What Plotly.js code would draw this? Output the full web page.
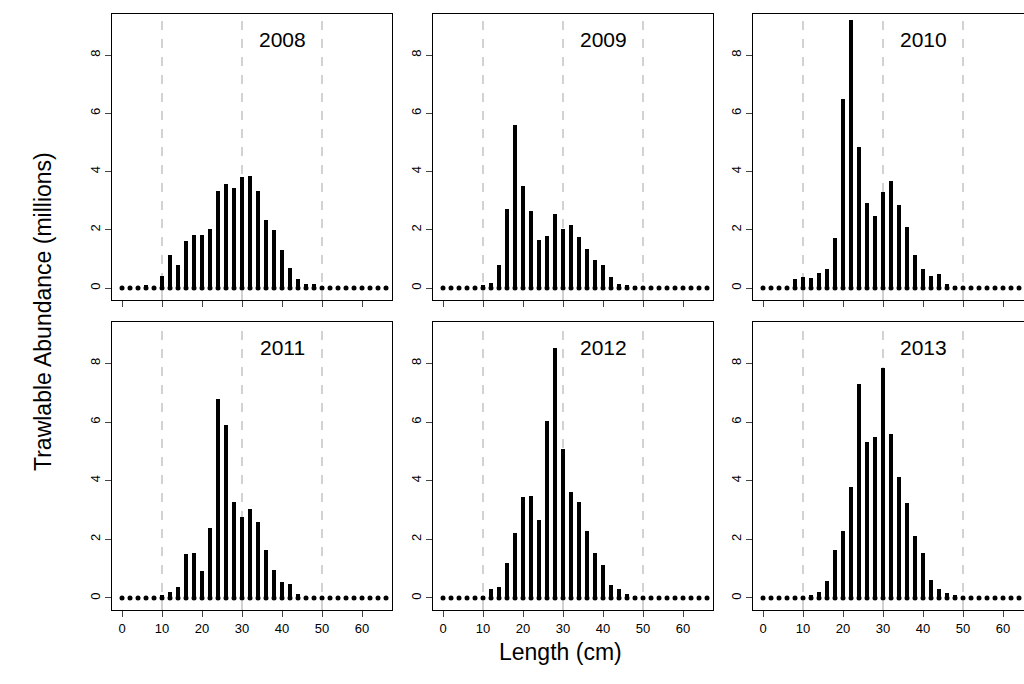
<!DOCTYPE html>
<html><head><meta charset="utf-8">
<script src="https://cdn.plot.ly/plotly-3.0.1.min.js"></script>
<style>html,body{margin:0;padding:0;overflow:hidden;background:#fff}</style>
</head><body><div id="chart"></div>
<script>
// length classes 0..66 cm by 2
var lengths = []; for (var L = 0; L <= 66; L += 2) lengths.push(L);
var years = ['2008','2009','2010','2011','2012','2013'];

// abundance (millions) per length class
var a2008 = [0.02,0.02,0.04,0.1,0.05,0.43,1.14,0.78,1.63,1.82,1.82,2.03,3.34,3.57,3.42,3.81,3.86,3.34,2.34,2.0,1.29,0.69,0.3,0.15,0.15,0.02,0.02,0.02,0.02,0.02,0.02,0.02,0.02,0.02];
var a2009 = [0.02,0.02,0.02,0.02,0.05,0.09,0.17,0.8,2.7,5.6,3.49,2.66,1.66,1.8,2.53,2.03,2.15,1.77,1.34,0.95,0.8,0.38,0.13,0.1,0.08,0.02,0.02,0.02,0.02,0.02,0.02,0.02,0.02,0.02];
var a2010 = [0.02,0.02,0.02,0.05,0.32,0.38,0.36,0.53,0.65,1.71,6.5,9.2,4.83,2.93,2.49,3.29,3.66,2.86,2.09,1.12,0.65,0.43,0.49,0.15,0.08,0.02,0.02,0.02,0.02,0.02,0.02,0.02,0.02,0.02];
var a2011 = [0.02,0.02,0.02,0.02,0.02,0.09,0.2,0.38,1.5,1.52,0.93,2.38,6.78,5.91,3.26,2.75,3.03,2.59,1.62,0.97,0.56,0.46,0.15,0.05,0.02,0.02,0.02,0.02,0.02,0.02,0.02,0.02,0.02,0.02];
var a2012 = [0.02,0.02,0.02,0.02,0.02,0.08,0.32,0.38,1.18,2.2,3.43,3.49,2.66,6.02,8.51,5.09,3.6,3.27,2.29,1.55,1.14,0.43,0.32,0.15,0.06,0.02,0.02,0.02,0.02,0.02,0.02,0.02,0.02,0.02];
var a2013 = [0.02,0.02,0.02,0.02,0.02,0.05,0.11,0.2,0.57,1.62,2.3,3.8,7.29,5.33,5.49,7.83,5.58,4.11,3.25,2.11,1.52,0.61,0.29,0.17,0.09,0.02,0.02,0.02,0.02,0.02,0.02,0.02,0.02,0.02];
var series = [a2008,a2009,a2010,a2011,a2012,a2013];

var W = 1040, H = 684;
var xcols = [[112,392],[433,713],[753,1033]];
var yrows = [[14,300],[322,610]];
var font = 'Liberation Sans, Arial, sans-serif';

var data = [], shapes = [], annotations = [];
var layout = {width: W, height: H, margin: {l:0,r:0,t:0,b:0}, showlegend: false,
  paper_bgcolor: '#fff', plot_bgcolor: '#fff', bargap: 0, font: {family: font, color: '#000'}};

series.forEach(function (vals, i) {
  var col = i % 3, row = Math.floor(i / 3), n = i + 1;
  var xa = 'x' + (n == 1 ? '' : n), ya = 'y' + (n == 1 ? '' : n);
  data.push({type: 'bar', x: lengths, y: vals, width: 1.2, marker: {color: '#000', line: {width: 0}},
    xaxis: xa, yaxis: ya, hoverinfo: 'x+y'});
  data.push({type: 'scatter', mode: 'markers', x: lengths, y: lengths.map(function(){return 0;}),
    marker: {color: '#000', size: 5}, xaxis: xa, yaxis: ya, hoverinfo: 'skip'});
  layout['xaxis' + (n == 1 ? '' : n)] = {
    domain: [xcols[col][0]/W, xcols[col][1]/W], range: [-2.5, 67.5], anchor: ya,
    tickvals: [0,10,20,30,40,50,60], showticklabels: row == 1, ticks: 'outside', ticklen: 6,
    showgrid: false, zeroline: false, showline: true, mirror: true, linecolor: '#000', linewidth: 1,
    tickfont: {size: 13, family: font}};
  layout['yaxis' + (n == 1 ? '' : n)] = {
    domain: [1 - yrows[row][1]/H, 1 - yrows[row][0]/H], range: [-0.41, 9.41], anchor: xa,
    tickvals: [0,2,4,6,8], ticks: 'outside', ticklen: 6, tickangle: -90,
    showgrid: false, zeroline: false, showline: true, mirror: true, linecolor: '#000', linewidth: 1,
    tickfont: {size: 13, family: font}};
  [10,30,50].forEach(function (v) {
    shapes.push({type: 'line', xref: xa, yref: ya + ' domain', x0: v, x1: v, y0: 0, y1: 1,
      line: {color: '#bbb', width: 1.3, dash: 'dash'}, layer: 'below'});
  });
  annotations.push({xref: xa, yref: ya, x: 40, y: 8.55, text: years[i], showarrow: false,
    font: {size: 21, family: font}});
});

annotations.push({xref: 'paper', yref: 'paper', x: 28/W, y: 1 - 312/H, text: 'Trawlable Abundance (millions)',
  textangle: -90, showarrow: false, font: {size: 23, family: font}});
annotations.push({xref: 'paper', yref: 'paper', x: 560/W, y: 1 - 667/H, text: 'Length (cm)',
  showarrow: false, font: {size: 23, family: font}});
layout.shapes = shapes; layout.annotations = annotations;

Plotly.newPlot('chart', data, layout, {staticPlot: true});
</script></body></html>
